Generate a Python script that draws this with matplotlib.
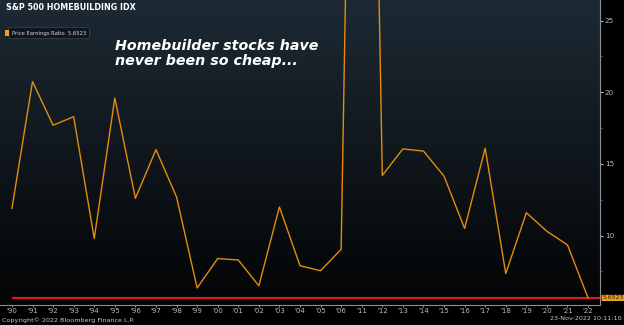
import numpy as np
import matplotlib.pyplot as plt

# Daten (Jahres-KGV); 2007-2010 fehlen im Original
years = ["'90", "'91", "'92", "'93", "'94", "'95", "'96", "'97", "'98", "'99",
         "'00", "'01", "'02", "'03", "'04", "'05", "'06", "'11", "'12", "'13",
         "'14", "'15", "'16", "'17", "'18", "'19", "'20", "'21", "'22"]
pe = [11.9, 20.75, 17.7, 18.3, 9.8, 19.6, 12.6, 16.0, 12.7, 6.35,
      8.4, 8.3, 6.5, 12.0, 7.9, 7.55, 9.05, 93.0, 14.2, 16.05,
      15.9, 14.15, 10.5, 16.1, 7.35, 11.6, 10.3, 9.35, 5.6523]
last_value = 5.6523
yticks = [10, 15, 20, 25]

fig = plt.figure(figsize=(6.24, 3.25), dpi=100, facecolor='black')
ax = fig.add_axes([0, 20 / 325, 600 / 624, 305 / 325])

x = np.arange(len(years))
ax.set_xlim(-0.58, len(years) - 1 + 0.58)
ax.set_ylim(5.16, 26.44)

# Hintergrund mit Verlauf
grad = np.linspace(0, 1, 256).reshape(-1, 1)
top = np.array([0x1d, 0x2a, 0x34]) / 255
bot = np.array([0x03, 0x04, 0x05]) / 255
img = top * (1 - grad[..., None]) + bot * grad[..., None]
img = np.repeat(img, 2, axis=1)
ax.imshow(img, extent=[0, 1, 0, 1], transform=ax.transAxes, aspect='auto', zorder=0)

ax.plot([0, len(years) - 1 + 0.58], [last_value, last_value], color='#d81b2c', lw=1.6, zorder=2, solid_capstyle='butt')
ax.plot(x, pe, color='#e38c0e', lw=1.0, zorder=3)

# Achsen im Bloomberg-Stil
for s in ['top', 'left']:
    ax.spines[s].set_visible(False)
ax.spines['right'].set_color('#8a8f94')
ax.spines['bottom'].set_color('#8a8f94')
ax.spines['right'].set_linewidth(0.8)
ax.spines['bottom'].set_linewidth(0.8)
ax.yaxis.tick_right()
ax.set_yticks(yticks)
ax.set_yticks([7.5, 12.5, 17.5, 22.5], minor=True)
ax.set_xticks(x)
ax.set_xticklabels(years)
ax.tick_params(axis='y', which='major', colors='#b8bcc0', labelsize=5.2, length=2.5, width=0.8, pad=1)
ax.tick_params(axis='y', which='minor', colors='#6a6f74', length=1.5, width=0.6)
ax.tick_params(axis='x', colors='#b8bcc0', labelsize=5.0, length=1.5, width=0.6, pad=0.8)

# Wertmarke rechts
ax.annotate(f'{last_value:.4f}', xy=(1, last_value), xycoords=('axes fraction', 'data'),
            xytext=(1.6, 0), textcoords='offset points', va='center', ha='left',
            fontsize=4.4, color='#2a1a00',
            bbox=dict(boxstyle='round,pad=0.1', fc='#f0a020', ec='none'))

# Titel, Legende, Kommentar
fig.text(6 / 624, 1 - 8 / 325, 'S&P 500 HOMEBUILDING IDX', color='white',
         fontsize=5.8, fontweight='bold', va='center', ha='left')
fig.text(12 / 624, 1 - 33 / 325, 'Price Earnings Ratio  5.6523', color='#d8dadc',
         fontsize=3.8, va='center', ha='left',
         bbox=dict(boxstyle='round,pad=0.6,rounding_size=0.3', fc='#0f151a', ec='#3a4148', lw=0.6))
fig.patches.append(plt.Rectangle((5 / 624, 1 - 36 / 325), 4 / 624, 6 / 325,
                                 transform=fig.transFigure, fc='#f0a020', ec='none', zorder=5))
fig.text(115 / 624, 1 - 39 / 325, 'Homebuilder stocks have\nnever been so cheap...',
         color='white', fontsize=10.3, fontweight='bold', style='italic',
         va='top', ha='left', linespacing=1.05)

fig.text(2 / 624, 4.5 / 325, 'Copyright\u00a9 2022 Bloomberg Finance L.P.', color='#c8cacc',
         fontsize=4.6, va='center', ha='left')
fig.text(622 / 624, 6.5 / 325, '23-Nov-2022 10:11:10', color='#c8cacc',
         fontsize=4.6, va='center', ha='right')

fig.savefig('out.png', dpi=100, facecolor='black')
